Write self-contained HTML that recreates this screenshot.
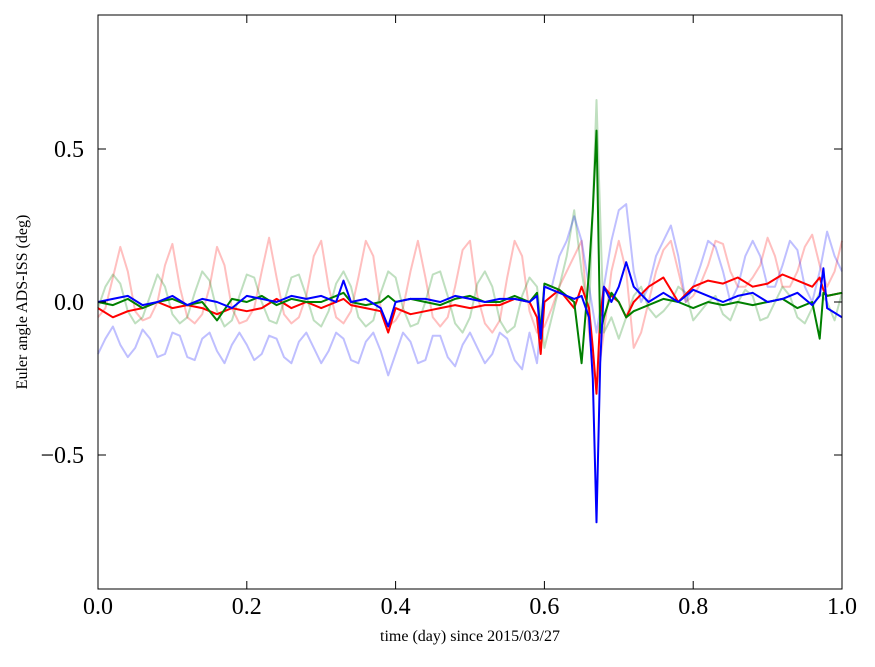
<!DOCTYPE html>
<html><head><meta charset="utf-8"><style>
html,body{margin:0;padding:0;background:#fff;}
svg text{font-family:"Liberation Serif",serif;}
</style></head><body>
<svg id="chart" width="875" height="662" viewBox="0 0 875 662" xmlns="http://www.w3.org/2000/svg">
<rect x="0" y="0" width="875" height="662" fill="#fff"/>
<g id="series"></g>
<rect x="98" y="15" width="744" height="574" fill="none" stroke="#000" stroke-width="1"/>
<g id="ticks"></g>
<text x="470" y="641" font-size="16" text-anchor="middle">time (day) since 2015/03/27</text>
<text x="27" y="302" font-size="16" text-anchor="middle" transform="rotate(-90 27 302)">Euler angle ADS-ISS (deg)</text>
</svg>
<script>
const xTicks=[0,0.2,0.4,0.6,0.8,1.0];
const xTickLabels=["0.0","0.2","0.4","0.6","0.8","1.0"];
const yTicks=[-0.5,0,0.5];
const yTickLabels=["\u22120.5","0.0","0.5"];
const tFaint=[];for(let i=0;i<=100;i++)tFaint.push(i/100);
const redFaint=[-0.05,-0.02,0.08,0.18,0.1,-0.03,-0.06,-0.05,0.0,0.12,0.19,0.05,-0.05,-0.07,-0.04,0.05,0.18,0.12,-0.02,-0.07,-0.06,-0.02,0.1,0.21,0.08,-0.04,-0.07,-0.05,0.02,0.15,0.2,0.05,-0.05,-0.07,-0.03,0.08,0.2,0.15,-0.02,-0.08,-0.06,-0.02,0.1,0.2,0.08,-0.05,-0.08,-0.05,0.05,0.17,0.2,0.02,-0.07,-0.1,-0.06,0.08,0.2,0.15,-0.03,-0.1,-0.08,-0.02,0.05,0.1,0.15,0.2,-0.1,-0.28,-0.1,0.1,0.2,0.1,-0.15,-0.1,0.0,0.1,0.17,0.2,0.1,0.0,0.02,0.06,0.12,0.2,0.19,0.1,0.05,0.05,0.08,0.12,0.21,0.15,0.05,0.05,0.1,0.18,0.22,0.12,0.05,0.1,0.2];
const greenFaint=[-0.02,0.05,0.09,0.06,-0.03,-0.07,-0.05,0.02,0.09,0.05,-0.04,-0.07,-0.05,0.03,0.1,0.07,-0.03,-0.08,-0.06,0.02,0.09,0.08,0.0,-0.06,-0.07,0.0,0.08,0.09,0.02,-0.06,-0.08,-0.03,0.06,0.1,0.05,-0.05,-0.08,-0.06,0.03,0.1,0.08,-0.02,-0.08,-0.07,0.0,0.09,0.1,0.02,-0.07,-0.1,-0.05,0.06,0.1,0.05,-0.06,-0.1,-0.08,0.02,0.08,0.05,-0.15,-0.05,0.05,0.15,0.3,0.1,-0.05,0.66,-0.1,-0.05,-0.12,-0.05,0.02,0.05,-0.02,-0.05,-0.03,0.0,0.05,0.03,-0.06,-0.03,0.0,0.02,-0.04,-0.06,0.0,0.04,0.02,-0.06,-0.05,0.0,0.05,0.02,-0.05,-0.07,-0.02,0.03,0.0,-0.06,0.03];
const blueFaint=[-0.17,-0.12,-0.08,-0.14,-0.18,-0.15,-0.09,-0.12,-0.18,-0.17,-0.1,-0.11,-0.18,-0.19,-0.12,-0.1,-0.16,-0.2,-0.14,-0.1,-0.14,-0.19,-0.17,-0.11,-0.12,-0.18,-0.2,-0.13,-0.1,-0.15,-0.2,-0.16,-0.1,-0.12,-0.19,-0.2,-0.13,-0.1,-0.16,-0.24,-0.17,-0.1,-0.13,-0.2,-0.19,-0.11,-0.11,-0.18,-0.21,-0.14,-0.1,-0.15,-0.2,-0.17,-0.1,-0.12,-0.19,-0.22,-0.1,-0.2,0.05,0.05,0.15,0.2,0.28,0.2,0.05,-0.1,0.05,0.2,0.3,0.32,0.1,0.0,0.05,0.15,0.2,0.25,0.15,0.0,0.05,0.12,0.2,0.18,0.1,0.0,0.05,0.15,0.2,0.15,0.05,0.05,0.12,0.2,0.17,0.05,0.0,0.1,0.23,0.15,0.1];
const tBold=[0,0.02,0.04,0.06,0.08,0.1,0.12,0.14,0.16,0.18,0.2,0.22,0.24,0.26,0.28,0.3,0.32,0.33,0.34,0.36,0.38,0.39,0.4,0.42,0.44,0.46,0.48,0.5,0.52,0.54,0.56,0.58,0.59,0.595,0.6,0.62,0.64,0.65,0.66,0.665,0.67,0.675,0.68,0.69,0.7,0.71,0.72,0.74,0.76,0.78,0.8,0.82,0.84,0.86,0.88,0.9,0.92,0.94,0.96,0.97,0.975,0.98,1.0];
const redBold=[-0.02,-0.05,-0.03,-0.02,0.0,-0.02,-0.01,-0.02,-0.04,-0.02,-0.03,-0.02,0.01,-0.02,0.0,-0.02,0.0,0.01,-0.01,-0.02,-0.03,-0.1,-0.02,-0.04,-0.03,-0.02,-0.01,-0.02,-0.01,-0.01,0.01,0.0,-0.05,-0.17,0.0,0.04,-0.02,0.05,-0.02,-0.15,-0.3,-0.05,0.05,0.02,0.0,-0.05,0.0,0.05,0.08,0.0,0.05,0.07,0.06,0.08,0.05,0.06,0.09,0.07,0.05,0.08,0.04,0.02,0.03];
const greenBold=[0.0,-0.01,0.01,-0.02,0.0,0.01,-0.01,0.0,-0.06,0.01,0.0,0.02,-0.01,0.01,0.0,0.0,0.02,0.03,0.0,-0.01,0.0,0.02,0.0,0.01,0.0,-0.01,0.01,0.02,0.0,0.0,0.02,0.0,0.03,-0.1,0.06,0.04,0.0,-0.2,0.1,0.3,0.56,-0.1,-0.05,0.03,0.0,-0.05,-0.03,-0.01,0.01,0.0,-0.02,0.0,-0.01,0.0,-0.01,0.0,0.01,-0.02,0.0,-0.12,0.03,0.02,0.03];
const blueBold=[0.0,0.01,0.02,-0.01,0.0,0.02,-0.01,0.01,0.0,-0.02,0.02,0.01,0.0,0.02,0.01,0.02,0.0,0.07,0.0,0.01,-0.02,-0.08,0.0,0.01,0.01,0.0,0.02,0.01,0.0,0.01,0.01,0.0,0.02,-0.12,0.05,0.03,0.01,0.02,-0.05,-0.25,-0.72,-0.2,0.05,0.0,0.05,0.13,0.05,0.0,0.03,0.0,0.04,0.02,0.0,0.02,0.03,0.0,0.01,0.03,-0.01,0.02,0.11,-0.02,-0.05];

const X0=98,X1=842,Y0=15,Y1=589;
const xs=v=>X0+(v-0)/(1-0)*(X1-X0);
const ys=v=>302-v*306;
const NS="http://www.w3.org/2000/svg";
const sg=document.getElementById('series');
function line(t,v,color,op,name){
  const n=Math.min(t.length,v.length);let d="";
  for(let i=0;i<n;i++)d+=(i?"L":"M")+xs(t[i]).toFixed(1)+","+ys(v[i]).toFixed(1);
  const p=document.createElementNS(NS,'path');
  p.setAttribute('d',d);p.setAttribute('fill','none');p.setAttribute('stroke',color);
  p.setAttribute('stroke-width','2');p.setAttribute('stroke-opacity',op);p.setAttribute('stroke-linejoin','round');
  
  
  sg.appendChild(p);
}
line(tFaint,redFaint,'#ff0000',0.25,'red-faint-line');
line(tFaint,greenFaint,'#008000',0.25,'green-faint-line');
line(tFaint,blueFaint,'#0000ff',0.25,'blue-faint-line');
line(tBold,redBold,'#ff0000',1,'red-line');
line(tBold,greenBold,'#008000',1,'green-line');
line(tBold,blueBold,'#0000ff',1,'blue-line');
const tg=document.getElementById('ticks');
function ln(x1,y1,x2,y2){const l=document.createElementNS(NS,'line');l.setAttribute('x1',x1);l.setAttribute('y1',y1);l.setAttribute('x2',x2);l.setAttribute('y2',y2);l.setAttribute('stroke','#000');


tg.appendChild(l);}
function tx(x,y,s,anchor,name){const e=document.createElementNS(NS,'text');e.setAttribute('x',x);e.setAttribute('y',y);e.setAttribute('font-size','24');e.setAttribute('text-anchor',anchor);e.textContent=s;


tg.appendChild(e);}
xTicks.forEach((v,i)=>{const x=xs(v);ln(x,Y1,x,Y1-8);ln(x,Y0,x,Y0+8);tx(x,614,xTickLabels[i],'middle','x-tick-label');});
yTicks.forEach((v,i)=>{const y=ys(v);ln(X0,y,X0+8,y);ln(X1,y,X1-8,y);tx(84,y+8,yTickLabels[i],'end','y-tick-label');});
</script>
</body></html>
